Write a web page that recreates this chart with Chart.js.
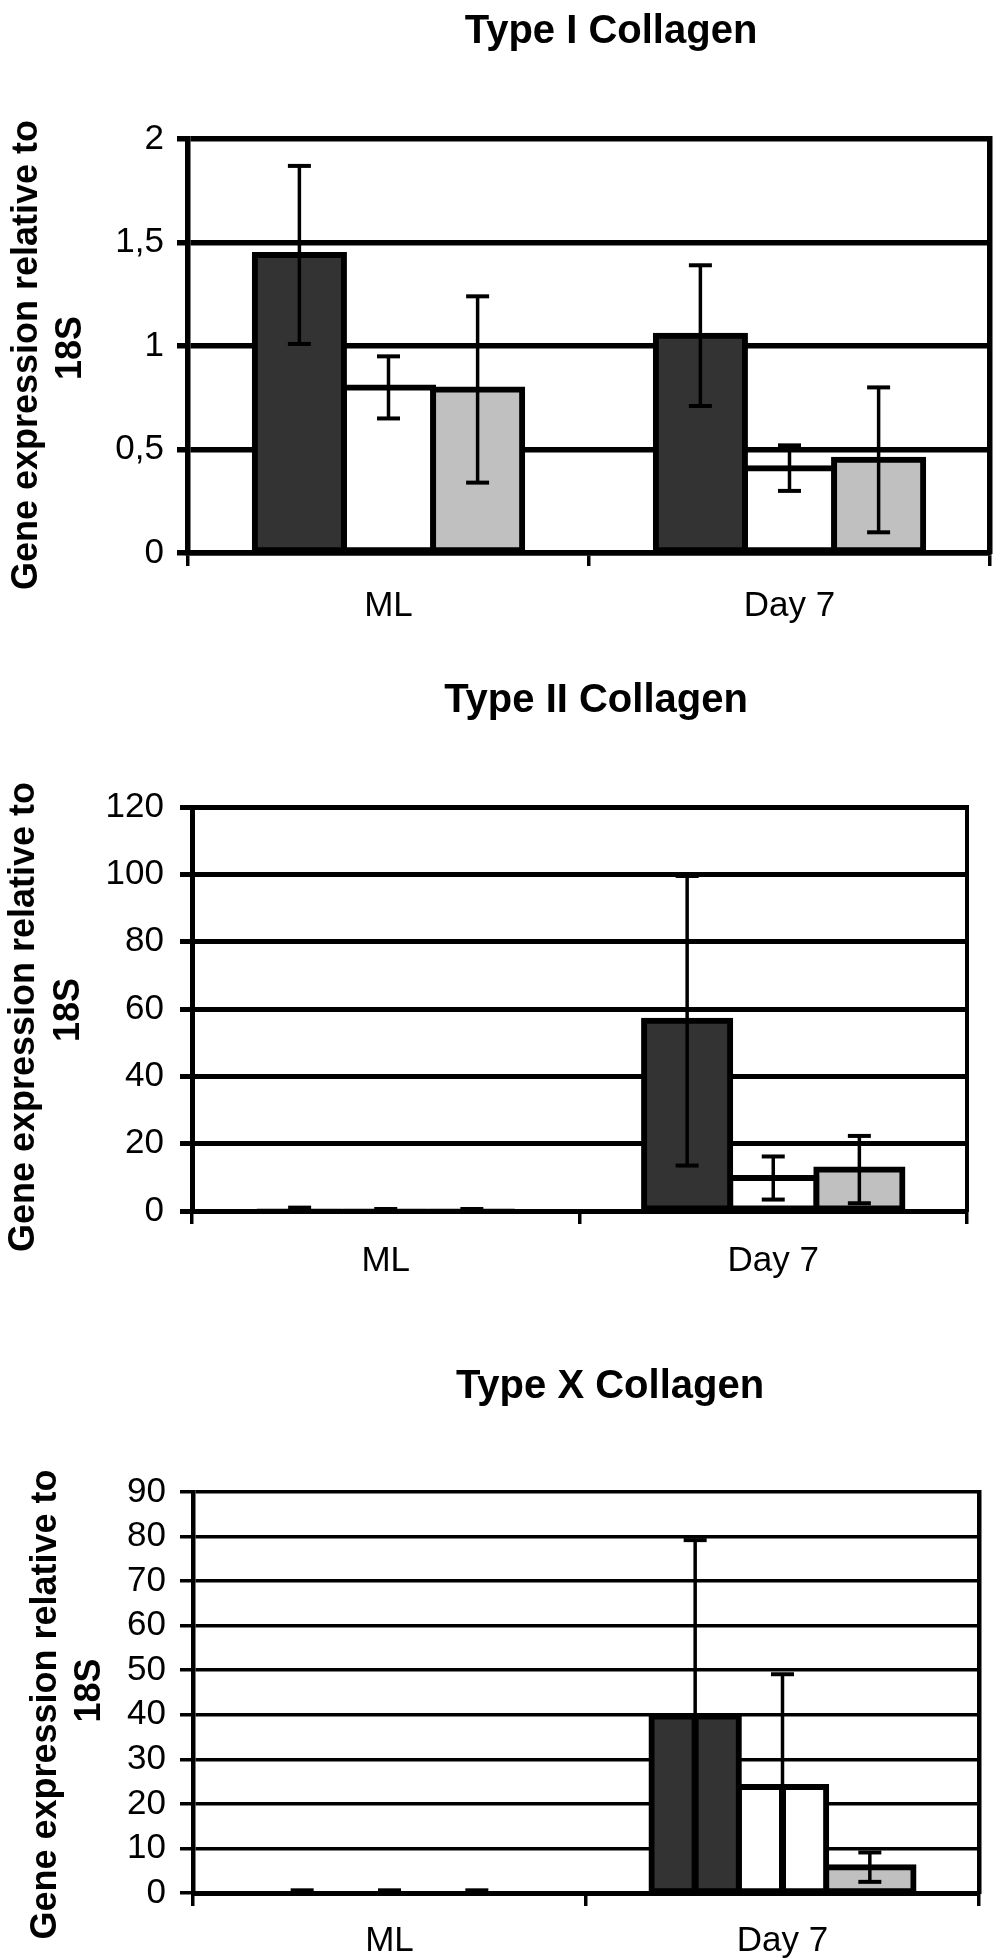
<!DOCTYPE html>
<html>
<head>
<meta charset="utf-8">
<title>Collagen gene expression</title>
<script src="https://cdn.jsdelivr.net/npm/chart.js@4/dist/chart.umd.min.js"></script>
<style>
  html, body { margin: 0; padding: 0; background: #ffffff; }
  canvas { display: block; }
</style>
</head>
<body>
<canvas id="c1" width="1004" height="650"></canvas>
<canvas id="c2" width="1004" height="650"></canvas>
<canvas id="c3" width="1004" height="660"></canvas>
<script>
// ---------- data ----------
const categories = ['ML', 'Day 7'];
const seriesNames = ['Series 1', 'Series 2', 'Series 3'];
const seriesColors = ['#333333', '#ffffff', '#c0c0c0'];

// Type I Collagen
const col1Dark = [1.44, 1.05];
const col1DarkErr = [0.43, 0.34];
const col1White = [0.80, 0.41];
const col1WhiteErr = [0.15, 0.11];
const col1Gray = [0.79, 0.45];
const col1GrayErr = [0.45, 0.35];
const col1TickLabels = ['0', '0,5', '1', '1,5', '2'];

// Type II Collagen
const col2Dark = [0.5, 56.5];
const col2DarkErr = [0.5, 43];
const col2White = [0.3, 9.8];
const col2WhiteErr = [0.3, 6.4];
const col2Gray = [0.3, 12.3];
const col2GrayErr = [0.3, 10];
const col2TickLabels = ['0', '20', '40', '60', '80', '100', '120'];

// Type X Collagen
const col10Dark = [0.3, 39.6];
const col10DarkErr = [0.3, 39.6];
const col10White = [0.3, 23.8];
const col10WhiteErr = [0.3, 25.3];
const col10Gray = [0.3, 5.8];
const col10GrayErr = [0.3, 3.3];
const col10TickLabels = ['0', '10', '20', '30', '40', '50', '60', '70', '80', '90'];

const yAxisTitle = ['Gene expression relative to', '18S'];

// ---------- styling ----------
const FONT = "'Liberation Sans', Arial, Helvetica, sans-serif";
Chart.defaults.font.family = FONT;
Chart.defaults.color = '#000000';

const panelTextPlugin = {
  id: 'panelText',
  afterDraw(chart, args, opts) {
    const ctx = chart.ctx;
    const area = chart.chartArea;
    ctx.save();
    ctx.fillStyle = '#000000';
    ctx.textAlign = 'center';
    ctx.textBaseline = 'alphabetic';
    ctx.font = 'bold 40px ' + FONT;
    ctx.fillText(opts.title, opts.titleX, opts.titleY);
    ctx.font = 'bold 36px ' + FONT;
    ctx.textBaseline = 'middle';
    const cy = (area.top + area.bottom) / 2;
    opts.yTitle.forEach((line, i) => {
      ctx.save();
      ctx.translate(opts.yTitleX[i], cy + opts.yTitleDy[i]);
      ctx.rotate(-Math.PI / 2);
      ctx.fillText(line, 0, 0);
      ctx.restore();
    });
    ctx.restore();
  }
};

const errorBarPlugin = {
  id: 'errorBars',
  afterDatasetsDraw(chart, args, opts) {
    const ctx = chart.ctx;
    const ys = chart.scales.y;
    ctx.save();
    ctx.strokeStyle = '#000000';
    ctx.lineCap = 'butt';
    const seg = (x1, y1, x2, y2, w) => {
      ctx.lineWidth = w;
      ctx.beginPath();
      ctx.moveTo(x1, y1);
      ctx.lineTo(x2, y2);
      ctx.stroke();
    };
    chart.data.datasets.forEach((ds, di) => {
      const meta = chart.getDatasetMeta(di);
      meta.data.forEach((bar, i) => {
        const v = ds.data[i];
        const e = ds.errors[i];
        const x = bar.x;
        const yMid = ys.getPixelForValue(v);
        const yHi = ys.getPixelForValue(v + e);
        const hw = opts.capHalf;
        seg(x, yMid, x, yHi, opts.lineWidth);
        seg(x - hw, yHi, x + hw, yHi, opts.capWidth);
        const low = v - e;
        if (low <= ys.min) {
          seg(x, yMid, x, ys.getPixelForValue(ys.min), opts.clippedWidth);
        } else {
          const yLo = ys.getPixelForValue(low);
          seg(x, yMid, x, yLo, opts.lineWidth);
          seg(x - hw, yLo, x + hw, yLo, opts.capWidth);
        }
      });
    });
    ctx.restore();
  }
};

function makeChart(id, values, errors, yMax, yStep, tickLabels, title, s) {
  const datasets = values.map((vals, k) => ({
    label: seriesNames[k],
    data: vals,
    errors: errors[k],
    backgroundColor: seriesColors[k],
    borderColor: '#000000',
    borderWidth: 6,
    borderSkipped: false,
    // border centred on the bar outline, as in the original (half outside)
    inflateAmount: (c) => (typeof c.raw === 'number' && c.raw < yMax * 0.02 ? 0 : 3),
    barPercentage: 1,
    categoryPercentage: 2 / 3
  }));
  return new Chart(document.getElementById(id), {
    type: 'bar',
    data: { labels: categories, datasets },
    plugins: [errorBarPlugin, panelTextPlugin],
    options: {
      responsive: false,
      animation: false,
      events: [],
      layout: { padding: { left: 0, right: 0, top: s.top, bottom: 0 } },
      plugins: {
        legend: { display: false },
        tooltip: { enabled: false },
        title: { display: false },
        errorBars: { lineWidth: 3.5, capWidth: 4, capHalf: 11.5, clippedWidth: 7 },
        panelText: {
          title: title, titleX: s.titleX, titleY: s.titleY,
          yTitle: yAxisTitle, yTitleX: s.yTitleX, yTitleDy: s.yTitleDy
        }
      },
      scales: {
        x: {
          type: 'category',
          offset: true,
          grid: {
            display: true, offset: true, drawOnChartArea: false, drawTicks: true,
            tickLength: s.xTickLen, lineWidth: 3.5, color: '#000000'
          },
          border: { display: true, width: s.xBorderW, color: '#000000' },
          ticks: {
            font: { size: 35 }, color: '#000000', padding: s.xTickPad,
            maxRotation: 0, autoSkip: false
          },
          afterFit: (sc) => { sc.height = s.bottomH; }
        },
        y: {
          min: 0, max: yMax,
          grid: {
            color: '#000000', lineWidth: s.gridW, drawTicks: true, tickLength: s.yTickLen
          },
          border: { display: true, width: s.yBorderW, color: '#000000' },
          ticks: {
            stepSize: yStep, autoSkip: false, font: { size: 35 }, color: '#000000',
            padding: s.yTickPad,
            callback: (v, i) => tickLabels[i]
          },
          afterFit: (sc) => { sc.width = s.leftW; }
        },
        y2: {
          position: 'right',
          display: true,
          grid: { display: false, drawTicks: false },
          ticks: { display: false },
          border: { display: true, width: s.rightBorderW, color: '#000000' },
          afterFit: (sc) => { sc.width = s.rightW; }
        }
      }
    }
  });
}

makeChart('c1',
  [col1Dark, col1White, col1Gray], [col1DarkErr, col1WhiteErr, col1GrayErr],
  2, 0.5, col1TickLabels, 'Type I Collagen',
  { top: 139, bottomH: 97, leftW: 188, rightW: 14, gridW: 5.5, yBorderW: 5.5, xBorderW: 5.5,
    rightBorderW: 5.5, yTickLen: 11, yTickPad: 13, xTickLen: 13, xTickPad: 19,
    titleX: 611, titleY: 43, yTitleX: [27, 71], yTitleDy: [9, 2] });

makeChart('c2',
  [col2Dark, col2White, col2Gray], [col2DarkErr, col2WhiteErr, col2GrayErr],
  120, 20, col2TickLabels, 'Type II Collagen',
  { top: 157, bottomH: 89, leftW: 192, rightW: 37, gridW: 5, yBorderW: 5, xBorderW: 5,
    rightBorderW: 4, yTickLen: 12, yTickPad: 16, xTickLen: 13, xTickPad: 16,
    titleX: 596, titleY: 62, yTitleX: [24, 69], yTitleDy: [8, 1] });

makeChart('c3',
  [col10Dark, col10White, col10Gray], [col10DarkErr, col10WhiteErr, col10GrayErr],
  90, 10, col10TickLabels, 'Type X Collagen',
  { top: 192, bottomH: 67, leftW: 193, rightW: 25, gridW: 3.5, yBorderW: 4.5, xBorderW: 5,
    rightBorderW: 4.5, yTickLen: 13, yTickPad: 14, xTickLen: 13, xTickPad: 14,
    titleX: 610, titleY: 98, yTitleX: [46, 90], yTitleDy: [12, -2] });
</script>
</body>
</html>
